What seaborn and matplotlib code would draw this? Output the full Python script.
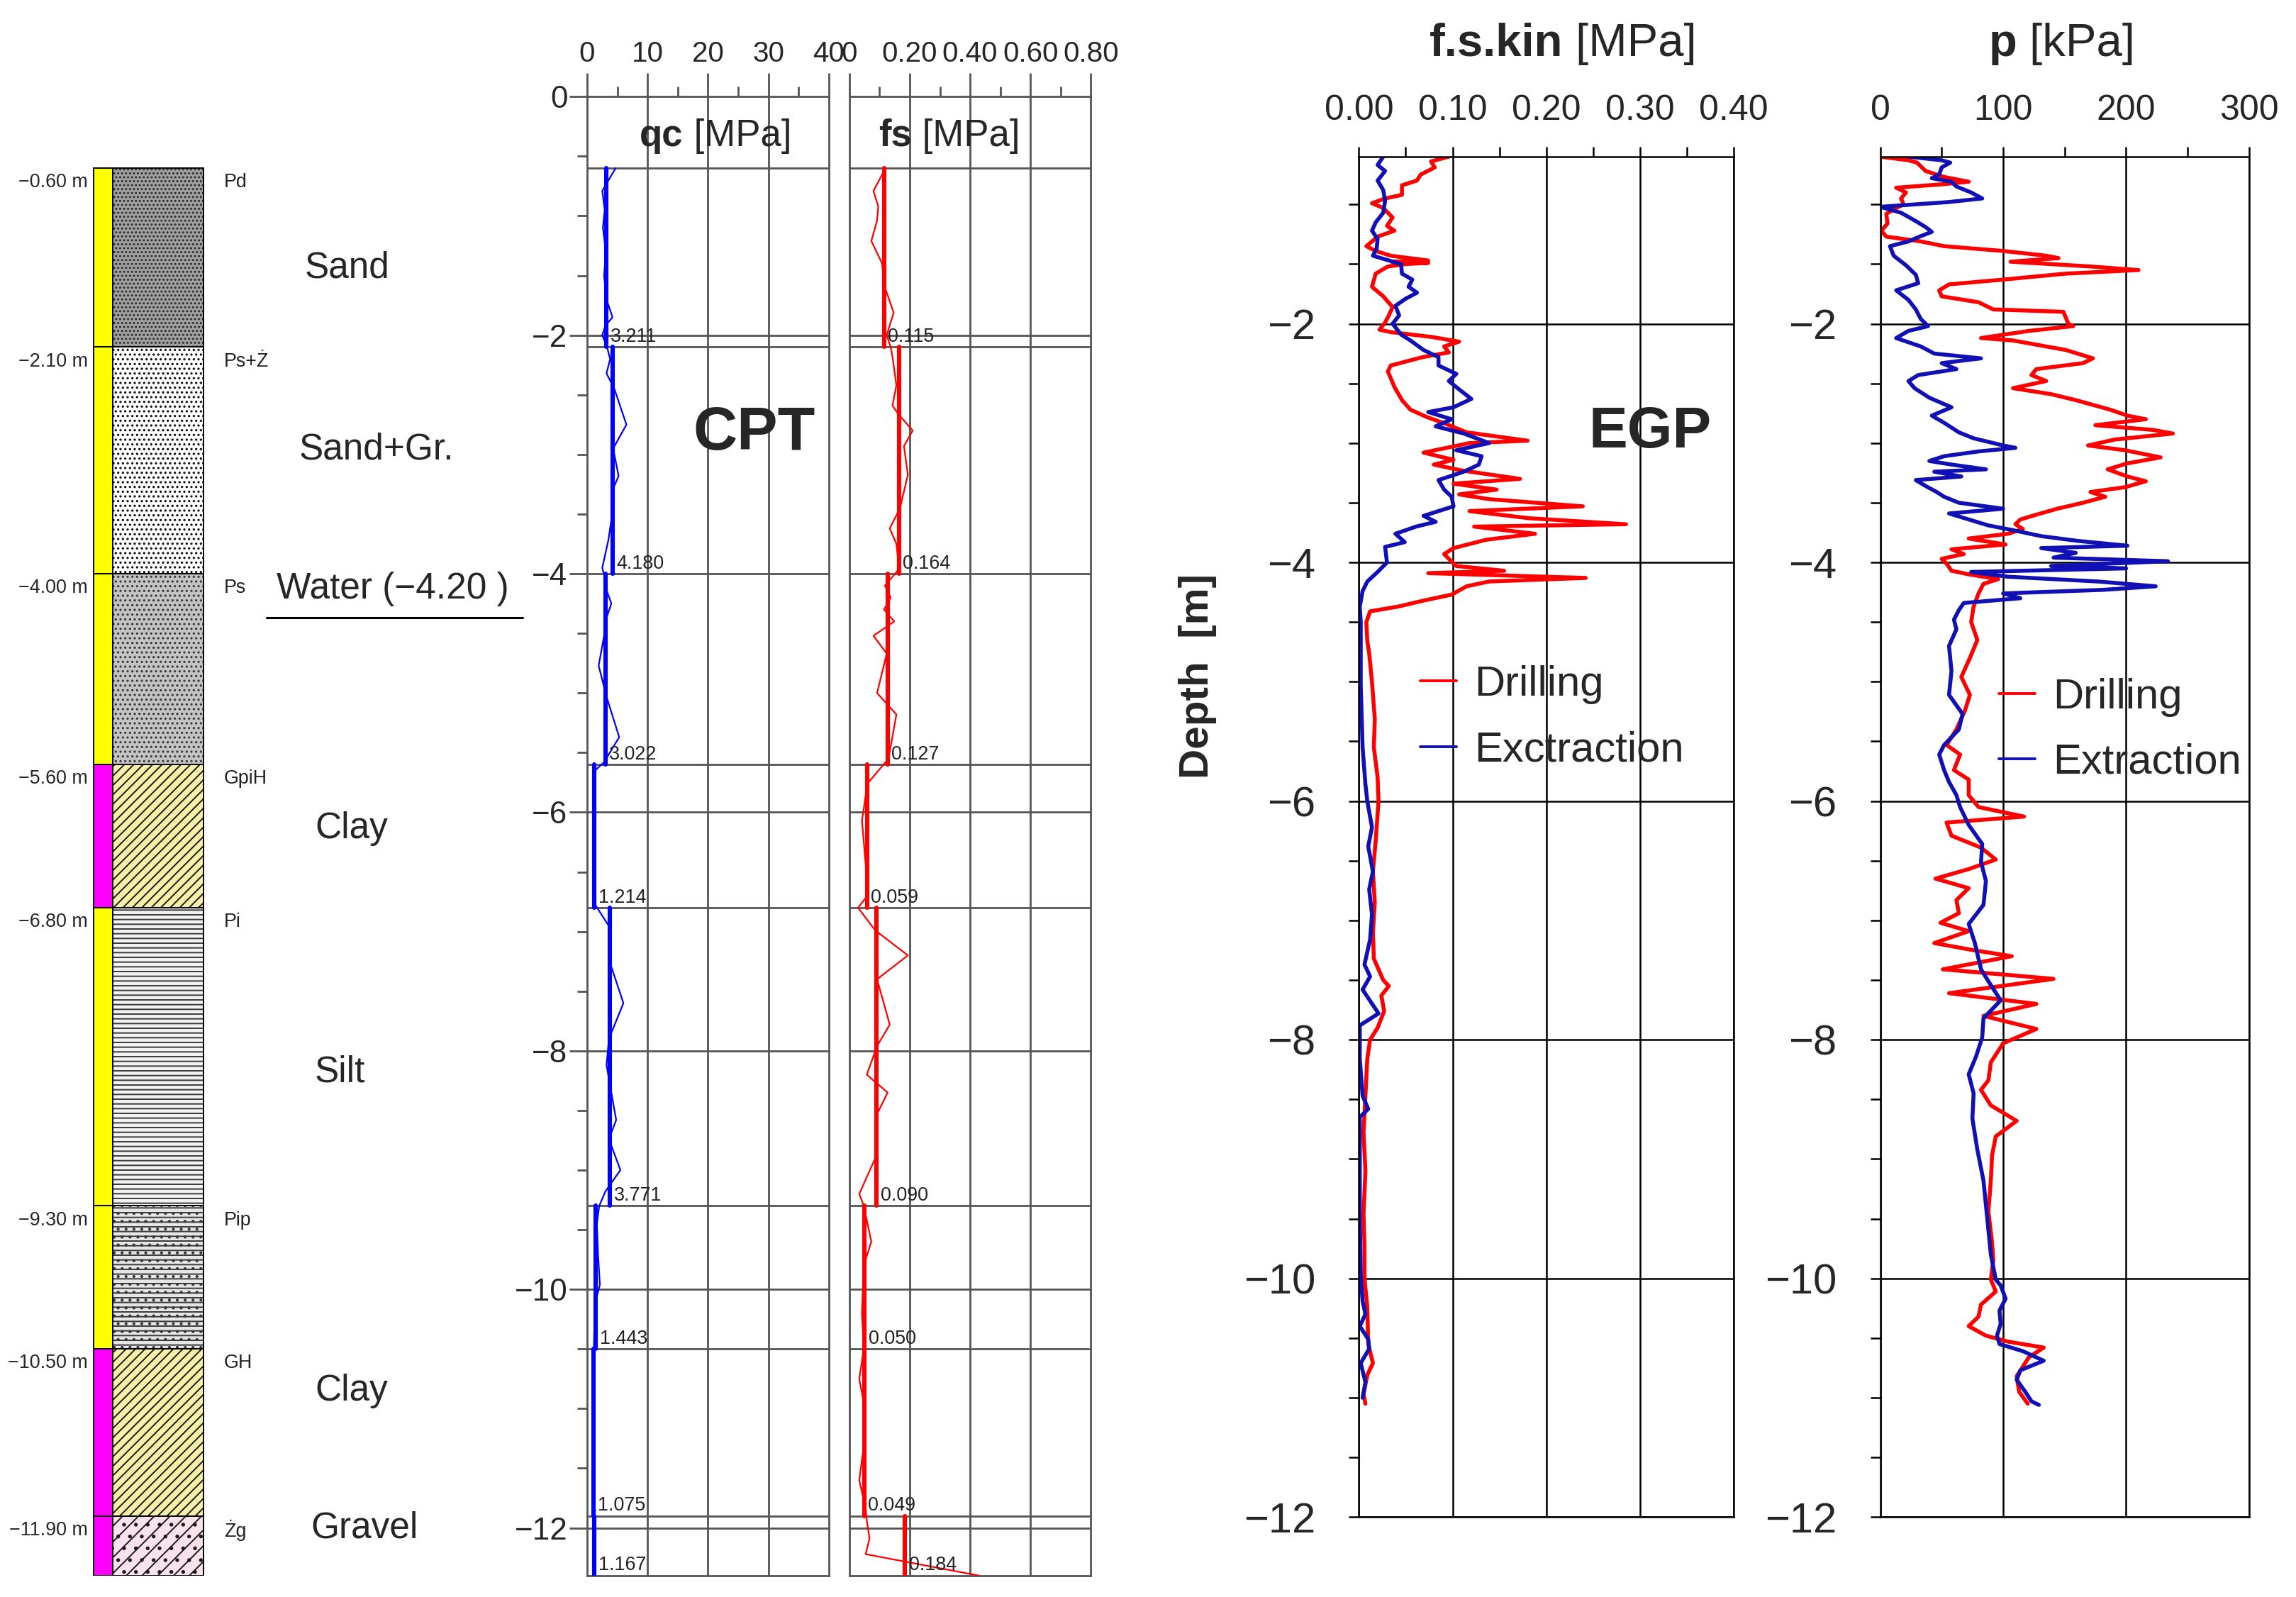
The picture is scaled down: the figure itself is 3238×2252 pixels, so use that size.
import numpy as np
import pandas as pd
import matplotlib
matplotlib.use("Agg")
import matplotlib.pyplot as plt
import seaborn as sns
from matplotlib import font_manager as fm
from matplotlib.ticker import MultipleLocator, FixedLocator, FuncFormatter
from matplotlib.transforms import blended_transform_factory as btf

# ---------------------------------------------------------------- data
layer_top = [-0.6, -2.1, -4.0, -5.6, -6.8, -9.3, -10.5, -11.9]
layer_bot = [-2.1, -4.0, -5.6, -6.8, -9.3, -10.5, -11.9, -12.4]
layer_depth_labels = ["\u22120.60 m", "\u22122.10 m", "\u22124.00 m", "\u22125.60 m",
                      "\u22126.80 m", "\u22129.30 m", "\u221210.50 m", "\u221211.90 m"]
layer_codes = ["Pd", "Ps+\u017b", "Ps", "GpiH", "Pi", "Pip", "GH", "\u017bg"]
soil_names = ["Sand", "Sand+Gr.", "Water (\u22124.20 )", "Clay", "Silt", "Clay", "Gravel"]

qc_mean = [3.211, 4.180, 3.022, 1.214, 3.771, 1.443, 1.075, 1.167]
fs_mean = [0.115, 0.164, 0.127, 0.059, 0.090, 0.050, 0.049, 0.184]

# raw CPT readings (depth m, value)
qc_raw = [(-0.60, 4.7), (-0.79, 2.5), (-0.95, 2.9), (-1.10, 2.6), (-1.30, 3.1), (-1.50, 2.8),
          (-1.70, 3.2), (-1.85, 4.2), (-1.92, 3.0), (-2.00, 2.5), (-2.10, 3.3), (-2.20, 3.8),
          (-2.32, 3.2), (-2.45, 4.5), (-2.75, 6.5), (-2.95, 4.3), (-3.18, 5.2), (-3.30, 4.2),
          (-3.55, 4.0), (-3.72, 3.5), (-3.95, 2.5), (-4.05, 3.0), (-4.15, 3.3), (-4.25, 4.0),
          (-4.40, 3.0), (-4.52, 2.8), (-4.77, 1.9), (-5.03, 3.2), (-5.37, 5.3), (-5.58, 2.8),
          (-5.65, 1.3), (-5.80, 1.2), (-6.00, 1.0), (-6.20, 1.3), (-6.45, 1.1), (-6.75, 1.0),
          (-6.97, 3.8), (-7.28, 3.9), (-7.60, 6.0), (-7.90, 3.6), (-8.12, 3.2), (-8.35, 4.0),
          (-8.58, 4.8), (-8.74, 3.6), (-9.00, 5.5), (-9.18, 3.0), (-9.30, 2.0), (-9.45, 1.6),
          (-9.70, 1.8), (-9.96, 2.1), (-10.10, 1.4), (-10.30, 1.2), (-10.50, 1.1), (-10.80, 1.0),
          (-11.10, 1.1), (-11.40, 0.9), (-11.70, 1.0), (-11.85, 1.3), (-12.00, 1.1), (-12.20, 1.2),
          (-12.40, 1.2)]
fs_raw = [(-0.61, 0.118), (-0.79, 0.080), (-0.92, 0.096), (-1.04, 0.092), (-1.21, 0.073),
          (-1.40, 0.109), (-1.57, 0.114), (-1.81, 0.147), (-2.00, 0.124), (-2.10, 0.137),
          (-2.18, 0.143), (-2.42, 0.156), (-2.59, 0.143), (-2.66, 0.162), (-2.80, 0.210),
          (-2.93, 0.181), (-3.17, 0.194), (-3.45, 0.168), (-3.62, 0.134), (-3.75, 0.156),
          (-3.96, 0.165), (-4.10, 0.118), (-4.20, 0.137), (-4.30, 0.115), (-4.40, 0.149),
          (-4.52, 0.080), (-4.67, 0.124), (-5.00, 0.092), (-5.18, 0.156), (-5.55, 0.130),
          (-5.76, 0.060), (-6.07, 0.042), (-6.43, 0.054), (-6.70, 0.060), (-6.80, 0.029),
          (-6.99, 0.086), (-7.20, 0.194), (-7.40, 0.092), (-7.78, 0.134), (-7.96, 0.092),
          (-8.20, 0.058), (-8.35, 0.127), (-8.53, 0.092), (-8.90, 0.086), (-9.20, 0.033),
          (-9.30, 0.048), (-9.60, 0.073), (-9.80, 0.048), (-10.20, 0.042), (-10.50, 0.048),
          (-10.75, 0.033), (-10.95, 0.048), (-11.20, 0.054), (-11.60, 0.033), (-11.83, 0.054),
          (-11.94, 0.058), (-12.09, 0.067), (-12.22, 0.054), (-12.40, 0.430)]

# EGP f.s.kin [MPa] (depth m, value)
fsk_drilling = [(-0.60, 0.096), (-0.64, 0.077), (-0.69, 0.081), (-0.75, 0.066), (-0.80, 0.062),
                (-0.84, 0.046), (-0.92, 0.046), (-0.95, 0.028), (-0.99, 0.014), (-1.03, 0.026),
                (-1.11, 0.036), (-1.18, 0.030), (-1.22, 0.038), (-1.27, 0.020), (-1.35, 0.008),
                (-1.39, 0.018), (-1.43, 0.034), (-1.47, 0.074), (-1.48, 0.035), (-1.49, 0.074),
                (-1.50, 0.050), (-1.52, 0.031), (-1.58, 0.018), (-1.69, 0.014), (-1.77, 0.026),
                (-1.86, 0.036), (-1.93, 0.032), (-1.99, 0.028), (-2.05, 0.022), (-2.07, 0.034),
                (-2.11, 0.077), (-2.15, 0.107), (-2.19, 0.091), (-2.24, 0.096), (-2.28, 0.068),
                (-2.35, 0.034), (-2.40, 0.031), (-2.53, 0.038), (-2.64, 0.046), (-2.72, 0.055),
                (-2.78, 0.072), (-2.84, 0.093), (-2.91, 0.115), (-2.98, 0.180), (-3.00, 0.118),
                (-3.08, 0.069), (-3.14, 0.101), (-3.18, 0.080), (-3.23, 0.110), (-3.30, 0.172),
                (-3.34, 0.101), (-3.39, 0.147), (-3.43, 0.107), (-3.47, 0.139), (-3.53, 0.239),
                (-3.57, 0.118), (-3.63, 0.182), (-3.68, 0.285), (-3.70, 0.123), (-3.76, 0.188),
                (-3.81, 0.136), (-3.88, 0.101), (-3.93, 0.091), (-3.97, 0.096), (-4.03, 0.104),
                (-4.07, 0.155), (-4.09, 0.074), (-4.13, 0.242), (-4.16, 0.139), (-4.20, 0.115),
                (-4.27, 0.099), (-4.32, 0.069), (-4.37, 0.042), (-4.41, 0.012), (-4.50, 0.008),
                (-4.66, 0.009), (-4.76, 0.011), (-5.00, 0.014), (-5.31, 0.017), (-5.55, 0.016),
                (-5.80, 0.020), (-6.00, 0.021), (-6.33, 0.018), (-6.59, 0.015), (-6.85, 0.017),
                (-7.10, 0.015), (-7.32, 0.016), (-7.50, 0.026), (-7.55, 0.032), (-7.63, 0.024),
                (-7.76, 0.027), (-7.90, 0.020), (-8.00, 0.012), (-8.16, 0.009), (-8.47, 0.007),
                (-8.78, 0.005), (-9.10, 0.007), (-9.46, 0.005), (-9.72, 0.006), (-10.00, 0.006),
                (-10.24, 0.009), (-10.55, 0.010), (-10.71, 0.015), (-10.81, 0.009), (-10.97, 0.005),
                (-11.05, 0.007)]
fsk_extraction = [(-0.60, 0.026), (-0.67, 0.020), (-0.72, 0.028), (-0.80, 0.020), (-0.88, 0.026),
                  (-0.97, 0.028), (-1.07, 0.026), (-1.15, 0.018), (-1.22, 0.014), (-1.29, 0.020),
                  (-1.37, 0.019), (-1.43, 0.015), (-1.50, 0.045), (-1.58, 0.046), (-1.63, 0.057),
                  (-1.69, 0.053), (-1.74, 0.062), (-1.79, 0.050), (-1.85, 0.039), (-1.93, 0.043),
                  (-2.00, 0.036), (-2.09, 0.045), (-2.14, 0.055), (-2.22, 0.069), (-2.28, 0.085),
                  (-2.35, 0.085), (-2.42, 0.104), (-2.48, 0.096), (-2.55, 0.107), (-2.63, 0.120),
                  (-2.70, 0.101), (-2.74, 0.074), (-2.80, 0.099), (-2.86, 0.082), (-2.92, 0.112),
                  (-3.00, 0.139), (-3.06, 0.104), (-3.11, 0.131), (-3.18, 0.128), (-3.24, 0.112),
                  (-3.31, 0.085), (-3.39, 0.091), (-3.45, 0.099), (-3.53, 0.101), (-3.61, 0.069),
                  (-3.66, 0.082), (-3.70, 0.061), (-3.76, 0.039), (-3.83, 0.049), (-3.87, 0.028),
                  (-4.00, 0.030), (-4.08, 0.020), (-4.16, 0.009), (-4.24, 0.004), (-4.37, 0.001),
                  (-4.50, 0.002), (-5.03, 0.002), (-5.55, 0.004), (-5.86, 0.007), (-6.00, 0.009),
                  (-6.22, 0.014), (-6.38, 0.010), (-6.59, 0.015), (-6.74, 0.011), (-6.95, 0.014),
                  (-7.16, 0.012), (-7.37, 0.006), (-7.47, 0.012), (-7.58, 0.004), (-7.78, 0.021),
                  (-7.88, 0.001), (-8.16, 0.001), (-8.47, 0.004), (-8.58, 0.010), (-8.65, 0.001),
                  (-8.94, 0.001), (-9.46, 0.001), (-9.98, 0.002), (-10.19, 0.004), (-10.30, 0.007),
                  (-10.40, 0.001), (-10.51, 0.010), (-10.59, 0.011), (-10.71, 0.002), (-10.87, 0.007),
                  (-11.00, 0.004)]

# EGP p [kPa] (depth m, value)
p_drilling = [(-0.60, 0), (-0.63, 23), (-0.65, 30), (-0.72, 37), (-0.77, 52), (-0.81, 72),
              (-0.83, 52), (-0.86, 13), (-0.90, 21), (-0.95, 17), (-1.00, 19), (-1.04, 11),
              (-1.08, 5), (-1.16, 6), (-1.22, 1), (-1.27, 5), (-1.31, 33), (-1.35, 52),
              (-1.39, 100), (-1.43, 135), (-1.45, 145), (-1.48, 106), (-1.52, 171), (-1.55, 210),
              (-1.58, 151), (-1.63, 100), (-1.67, 56), (-1.72, 48), (-1.77, 50), (-1.82, 80),
              (-1.88, 92), (-1.90, 149), (-2.00, 153), (-2.02, 157), (-2.06, 121), (-2.12, 82),
              (-2.14, 108), (-2.22, 151), (-2.29, 173), (-2.33, 165), (-2.38, 127), (-2.43, 123),
              (-2.48, 135), (-2.54, 108), (-2.59, 139), (-2.64, 159), (-2.72, 187), (-2.77, 201),
              (-2.80, 216), (-2.85, 175), (-2.89, 222), (-2.92, 238), (-2.97, 191), (-3.02, 169),
              (-3.06, 199), (-3.12, 228), (-3.17, 201), (-3.22, 185), (-3.28, 201), (-3.32, 216),
              (-3.37, 199), (-3.41, 171), (-3.45, 183), (-3.50, 165), (-3.55, 144), (-3.60, 127),
              (-3.64, 114), (-3.68, 110), (-3.72, 116), (-3.76, 104), (-3.80, 72), (-3.85, 102),
              (-3.89, 58), (-3.93, 68), (-3.97, 50), (-4.01, 54), (-4.07, 58), (-4.10, 72),
              (-4.14, 96), (-4.18, 84), (-4.26, 80), (-4.37, 76), (-4.50, 74), (-4.65, 79),
              (-4.80, 73), (-4.96, 66), (-5.11, 73), (-5.24, 69), (-5.40, 62), (-5.53, 54),
              (-5.61, 65), (-5.74, 60), (-5.82, 72), (-5.95, 72), (-6.05, 80), (-6.13, 117),
              (-6.18, 54), (-6.29, 58), (-6.39, 82), (-6.49, 94), (-6.57, 72), (-6.65, 45),
              (-6.73, 72), (-6.83, 62), (-6.94, 64), (-7.02, 49), (-7.09, 72), (-7.19, 44),
              (-7.25, 76), (-7.30, 107), (-7.41, 51), (-7.49, 141), (-7.61, 56), (-7.70, 127),
              (-7.80, 84), (-7.91, 127), (-8.03, 100), (-8.19, 90), (-8.34, 88), (-8.42, 82),
              (-8.55, 90), (-8.68, 111), (-8.81, 94), (-8.97, 91), (-9.18, 90), (-9.44, 88),
              (-9.70, 91), (-9.85, 92), (-10.01, 90), (-10.11, 94), (-10.22, 82), (-10.32, 80),
              (-10.40, 72), (-10.48, 86), (-10.53, 104), (-10.58, 133), (-10.66, 121),
              (-10.74, 116), (-10.82, 111), (-10.95, 113), (-11.05, 120)]
p_extraction = [(-0.60, 23), (-0.63, 50), (-0.65, 57), (-0.69, 50), (-0.75, 48), (-0.78, 42),
                (-0.81, 58), (-0.85, 62), (-0.90, 74), (-0.95, 83), (-0.98, 56), (-1.02, 0),
                (-1.07, 17), (-1.14, 29), (-1.19, 37), (-1.23, 42), (-1.27, 32), (-1.31, 23),
                (-1.35, 8), (-1.43, 11), (-1.51, 21), (-1.59, 29), (-1.66, 31), (-1.72, 13),
                (-1.80, 23), (-1.88, 29), (-1.96, 33), (-2.02, 39), (-2.06, 23), (-2.12, 13),
                (-2.19, 33), (-2.25, 44), (-2.29, 82), (-2.33, 50), (-2.38, 62), (-2.43, 31),
                (-2.48, 23), (-2.54, 28), (-2.62, 40), (-2.70, 58), (-2.77, 42), (-2.83, 52),
                (-2.91, 64), (-2.96, 76), (-3.02, 100), (-3.04, 110), (-3.07, 80), (-3.11, 52),
                (-3.15, 40), (-3.18, 58), (-3.22, 86), (-3.24, 44), (-3.28, 66), (-3.31, 29),
                (-3.36, 37), (-3.41, 46), (-3.45, 52), (-3.50, 64), (-3.55, 100), (-3.59, 56),
                (-3.64, 72), (-3.69, 88), (-3.73, 108), (-3.78, 131), (-3.82, 161), (-3.86, 201),
                (-3.88, 131), (-3.92, 159), (-3.96, 141), (-3.99, 234), (-4.03, 139), (-4.05, 200),
                (-4.08, 74), (-4.12, 104), (-4.16, 177), (-4.20, 224), (-4.23, 181), (-4.26, 100),
                (-4.30, 114), (-4.34, 68), (-4.40, 64), (-4.48, 60), (-4.56, 62), (-4.70, 56),
                (-4.91, 58), (-5.11, 56), (-5.27, 67), (-5.40, 64), (-5.53, 52), (-5.61, 48),
                (-5.74, 52), (-5.84, 56), (-5.95, 62), (-6.05, 65), (-6.20, 72), (-6.36, 83),
                (-6.51, 82), (-6.67, 86), (-6.87, 84), (-7.03, 72), (-7.19, 77), (-7.41, 82),
                (-7.51, 88), (-7.67, 98), (-7.82, 84), (-7.98, 83), (-8.14, 78), (-8.29, 72),
                (-8.45, 76), (-8.66, 75), (-8.92, 79), (-9.18, 84), (-9.49, 87), (-9.80, 90),
                (-10.01, 94), (-10.06, 98), (-10.17, 102), (-10.27, 97), (-10.38, 98),
                (-10.48, 95), (-10.55, 97), (-10.61, 116), (-10.69, 133), (-10.77, 114),
                (-10.85, 111), (-10.95, 118), (-11.03, 123), (-11.06, 129)]

# ---------------------------------------------------------------- style
sns.set_style("ticks")
names = {f.name for f in fm.fontManager.ttflist}
if "Liberation Sans Narrow" in names:
    NARROW, NS = "Liberation Sans Narrow", 1.0
else:
    NARROW, NS = "Liberation Sans", 0.88
plt.rcParams["font.family"] = ["Liberation Sans", "DejaVu Sans"]
plt.rcParams["hatch.linewidth"] = 0.7

fig = plt.figure(figsize=(3238 / 200, 2252 / 200), dpi=200)
W, H = 1568.0, 1090.6

int_minus = FuncFormatter(lambda v, pos: ("%d" % round(v)).replace("-", "\u2212"))
fmt2_minus = FuncFormatter(lambda v, pos: "%.2f" % v)


def add_ax(x0, x1, y0, y1):
    return fig.add_axes([x0 / W, 1 - y1 / H, (x1 - x0) / W, (y1 - y0) / H])


def split(pairs):
    d = [a for a, b in pairs]
    v = [b for a, b in pairs]
    return d, v


def two_part(host_ax, x, y, bold, rest, size, transform):
    """bold word followed by regular text on the same baseline"""
    t1 = host_ax.text(x, y, bold, transform=transform, ha="left", va="center",
                      fontsize=size, weight="bold", clip_on=False)
    host_ax.annotate(rest, xy=(1, 0), xycoords=t1, ha="left", va="bottom",
                     fontsize=size, annotation_clip=False)


# ---------------------------------------------------------------- lithology column
col_colors = ["#ffff00", "#ffff00", "#ffff00", "#ff00ff", "#ffff00", "#ffff00", "#ff00ff", "#ff00ff"]
hatch_fc = ["#a0a0a0", "#ffffff", "#c4c4c4", "#f6f0a8", "#f2f2f2", "#e6e6e6", "#f6f0a8", "#f9e2ec"]
hatch_ec = ["#2a2a2a", "#111111", "#3a3a3a", "#1a1a1a", "#3a3a3a", "#3a3a3a", "#1a1a1a", "#1a1a1a"]
hatch_pat = ["......", ".....", ".....", "/////", "-----", "-----...", "/////", "///.."]

lith = add_ax(0, 380, 66, 1076)
lith.set_xlim(0, 380)
lith.set_ylim(-12.4, 0)
lith.axis("off")
for i in range(len(layer_top)):
    top, bot = layer_top[i], layer_bot[i]
    lith.bar(70.5, top - bot, bottom=bot, width=13, color=col_colors[i],
             edgecolor="black", linewidth=0.7)
    lith.bar(108, top - bot, bottom=bot, width=62, facecolor=hatch_fc[i],
             edgecolor=hatch_ec[i], hatch=hatch_pat[i], linewidth=0)
    lith.bar(108, top - bot, bottom=bot, width=62, fill=False,
             edgecolor="black", linewidth=0.7)
    lith.text(60, top - 0.12, layer_depth_labels[i], ha="right", va="center",
              fontsize=11 * NS, family=NARROW)
    lith.text(153, top - 0.12, layer_codes[i], ha="left", va="center",
              fontsize=11 * NS, family=NARROW, color="#222222")

soil_pos = [(237, -1.44), (257, -2.96), (268, -4.13), (240, -6.14), (232, -8.18),
            (240, -10.85), (249, -12.0)]
for name, (x, y) in zip(soil_names, soil_pos):
    lith.text(x, y, name, ha="center", va="center", fontsize=18.5)
lith.plot([182, 357], [-4.37, -4.37], color="black", lw=1.1)

# ---------------------------------------------------------------- CPT panels
GR = "#555555"
all_lines = sorted(set(layer_top + layer_bot[:-1] + [-2, -4, -6, -8, -10, -12]))


def cpt_panel(ax, raw, means, color, xmax, major, label_fmt, ticklabels,
              hbold, hrest, hx, show_y):
    ax.set_xlim(0, xmax)
    ax.set_ylim(-12.4, 0)
    for s in ax.spines.values():
        s.set_color(GR)
        s.set_linewidth(1.0)
    ax.xaxis.set_ticks_position("top")
    ax.set_xticks(np.arange(0, xmax + 1e-9, major))
    ax.set_xticklabels(ticklabels)
    ax.xaxis.set_minor_locator(MultipleLocator(major / 2))
    ax.tick_params(axis="x", which="major", direction="out", length=12, width=1.0,
                   color=GR, pad=3, labelsize=16.5 * NS)
    ax.tick_params(axis="x", which="minor", direction="out", length=5, width=1.0, color=GR)
    for lab in ax.get_xticklabels():
        lab.set_family(NARROW)
    if show_y:
        ax.yaxis.set_major_locator(FixedLocator([0, -2, -4, -6, -8, -10, -12]))
        ax.yaxis.set_minor_locator(MultipleLocator(0.5))
        ax.yaxis.set_major_formatter(int_minus)
        ax.tick_params(axis="y", which="major", direction="out", length=9, width=1.0,
                       color=GR, pad=1, labelsize=18 * NS)
        ax.tick_params(axis="y", which="minor", direction="out", length=5, width=1.0, color=GR)
        for lab in ax.get_yticklabels():
            lab.set_family(NARROW)
    else:
        ax.tick_params(axis="y", which="both", left=False, labelleft=False)
    for v in np.arange(major, xmax - 1e-9, major):
        ax.axvline(v, color=GR, lw=1.0, zorder=1)
    for d in all_lines:
        ax.axhline(d, color=GR, lw=1.0, zorder=1)

    d, v = split(raw)
    sns.lineplot(x=v, y=d, sort=False, orient="y", estimator=None, color=color,
                 lw=0.8, ax=ax, legend=False, zorder=3)
    rows = []
    for i, m in enumerate(means):
        rows.append({"d": layer_top[i], "v": m, "layer": i})
        rows.append({"d": layer_bot[i], "v": m, "layer": i})
    df = pd.DataFrame(rows)
    sns.lineplot(data=df, x="v", y="d", units="layer", estimator=None, sort=False,
                 orient="y", color=color, lw=2.2, ax=ax, legend=False, zorder=4)
    for i, m in enumerate(means):
        ax.annotate(label_fmt % m, xy=(m, layer_bot[i]), xytext=(2, 0.5),
                    textcoords="offset points", ha="left", va="bottom",
                    fontsize=11 * NS, family=NARROW, color="#222222", zorder=5)
    two_part(ax, hx, -0.33, hbold, " " + hrest, 19, btf(ax.transAxes, ax.transData))
    ax.set_xlabel("")
    ax.set_ylabel("")


qc_ax = add_ax(401, 566, 66, 1076)
fs_ax = add_ax(580, 745, 66, 1076)
cpt_panel(qc_ax, qc_raw, qc_mean, "#0000ff", 40, 10, "%.3f",
          ["0", "10", "20", "30", "40"], "qc", "[MPa]", 0.218, True)
cpt_panel(fs_ax, fs_raw, fs_mean, "#ff0000", 0.8, 0.2, "%.3f",
          ["0", "0.20", "0.40", "0.60", "0.80"], "fs", "[MPa]", 0.121, False)
qc_ax.text(0.69, -2.83, "CPT", transform=btf(qc_ax.transAxes, qc_ax.transData),
           ha="center", va="center", fontsize=31, weight="bold")

# ---------------------------------------------------------------- EGP panels
RED, BLUE = "#ff0000", "#1010b4"


def egp_panel(ax, drill, extr, xmax, major, xfmt, ext_label, leg_xy):
    ax.set_xlim(0, xmax)
    ax.set_ylim(-12, -0.6)
    for s in ax.spines.values():
        s.set_color("black")
        s.set_linewidth(0.9)
    ax.xaxis.set_ticks_position("top")
    ax.set_xticks(np.arange(0, xmax + 1e-9, major))
    ax.xaxis.set_minor_locator(MultipleLocator(major / 2))
    ax.xaxis.set_major_formatter(xfmt)
    ax.yaxis.set_major_locator(FixedLocator([-2, -4, -6, -8, -10, -12]))
    ax.yaxis.set_minor_locator(MultipleLocator(0.5))
    ax.yaxis.set_major_formatter(int_minus)
    ax.tick_params(axis="x", which="both", direction="out", length=5, width=0.9,
                   color="black", pad=10, labelsize=18)
    ax.tick_params(axis="y", which="both", direction="out", length=5, width=0.9,
                   color="black", pad=17, labelsize=21.5)
    ax.grid(True, which="major", color="black", lw=0.9)
    d, v = split(drill)
    sns.lineplot(x=v, y=d, sort=False, orient="y", estimator=None, color=RED,
                 lw=2.0, ax=ax, label="Drilling")
    d, v = split(extr)
    sns.lineplot(x=v, y=d, sort=False, orient="y", estimator=None, color=BLUE,
                 lw=2.0, ax=ax, label=ext_label)
    ax.set_xlabel("")
    ax.set_ylabel("")
    leg = ax.legend(loc="upper left", bbox_to_anchor=leg_xy, frameon=False, fontsize=21.5,
                    handlelength=0.86, handletextpad=0.42, labelspacing=0.62,
                    borderpad=0, borderaxespad=0)
    for line in leg.get_lines():
        line.set_linewidth(1.4)


fk_ax = add_ax(928, 1184, 107, 1036)
p_ax = add_ax(1284, 1536, 107, 1036)
egp_panel(fk_ax, fsk_drilling, fsk_extraction, 0.4, 0.1, fmt2_minus, "Exctraction", (0.164, 0.626))
egp_panel(p_ax, p_drilling, p_extraction, 300, 100, int_minus, "Extraction", (0.321, 0.617))
fk_ax.text(0.777, -2.91, "EGP", transform=btf(fk_ax.transAxes, fk_ax.transData),
           ha="center", va="center", fontsize=29.5, weight="bold")

two_part(fk_ax, 976 / W, 1 - 30 / H, "f.s.kin", " [MPa]", 23.5, fig.transFigure)
two_part(p_ax, 1358 / W, 1 - 30 / H, "p", " [kPa]", 23.5, fig.transFigure)
fig.text(818 / W, 1 - 462 / H, "Depth  [m]", rotation=90, ha="center", va="center",
         fontsize=21, weight="bold")

fig.savefig("out.png", dpi=200)
